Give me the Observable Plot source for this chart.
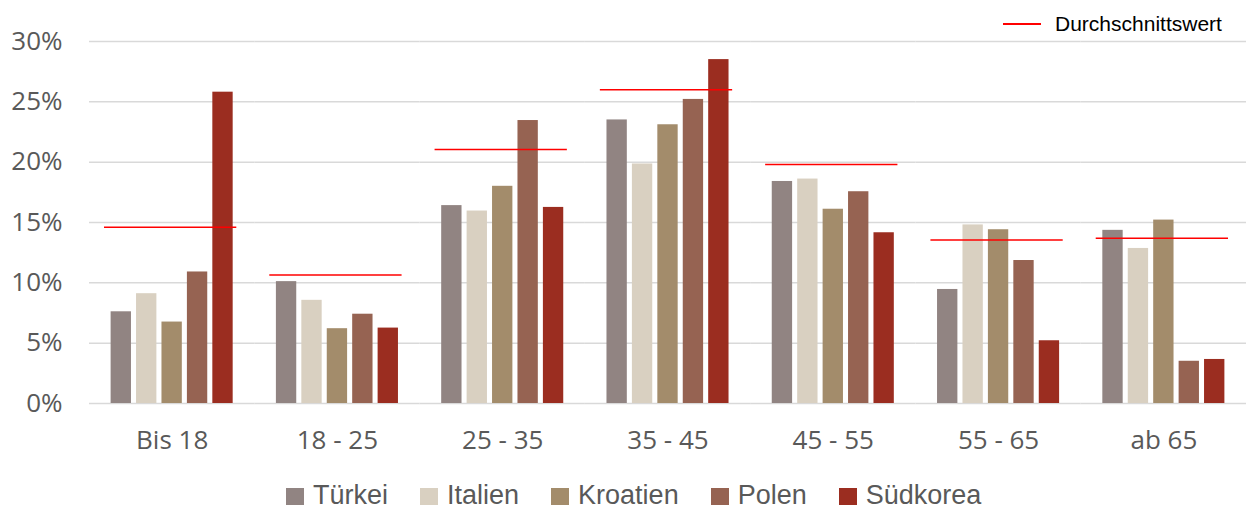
<!DOCTYPE html>
<html>
<head>
<meta charset="utf-8">
<script src="https://cdn.jsdelivr.net/npm/d3@7"></script>
<script src="https://cdn.jsdelivr.net/npm/@observablehq/plot@0.6"></script>
<style>
  html, body { margin: 0; padding: 0; background: #fff; }
  body { width: 1246px; height: 510px; position: relative; overflow: hidden; font-family: "Liberation Sans", Arial, sans-serif; }
  #chart { position: absolute; left: 0; top: 0; }
  #avgLegend { position: absolute; left: 1003px; top: 13px; display: flex; align-items: center; font-size: 21px; line-height: 21px; color: #000; }
  #avgLegend .line { display: block; width: 38px; height: 2px; background: #ff0000; margin-right: 14px; }
  #legend { position: absolute; left: 286px; top: 482px; display: flex; align-items: center; font-size: 27px; line-height: 27px; color: #595959; }
  #legend .item { display: flex; align-items: center; margin-right: 32px; }
  #legend .sw { display: block; width: 18px; height: 17px; margin-right: 9px; margin-top: 2px; }
</style>
</head>
<body>
<div id="chart"></div>
<div id="avgLegend"></div>
<div id="legend"></div>
<script>
// ---- data ----
const groups = ["Bis 18", "18 - 25", "25 - 35", "35 - 45", "45 - 55", "55 - 65", "ab 65"];
const countries = ["Türkei", "Italien", "Kroatien", "Polen", "Südkorea"];
const countryColors = ["#918482", "#d9d0c1", "#a38c6b", "#966352", "#9b2d20"];
const tuerkei   = [7.6, 10.1, 16.4, 23.5, 18.4, 9.45, 14.35];
const italien   = [9.1, 8.55, 15.95, 19.85, 18.6, 14.8, 12.85];
const kroatien  = [6.75, 6.2, 18.0, 23.1, 16.1, 14.4, 15.2];
const polen     = [10.9, 7.4, 23.45, 25.2, 17.55, 11.85, 3.5];
const suedkorea = [25.8, 6.25, 16.25, 28.5, 14.15, 5.2, 3.65];
const durchschnitt = [14.6, 10.65, 21.05, 26.0, 19.8, 13.55, 13.7];
const avgLabel = "Durchschnittswert";
const yTicks = [0, 5, 10, 15, 20, 25, 30];

// ---- tables built from the arrays ----
const seriesValues = [tuerkei, italien, kroatien, polen, suedkorea];
const rows = [];
groups.forEach((g, gi) => {
  countries.forEach((c, ci) => rows.push({ group: g, country: c, value: seriesValues[ci][gi] }));
});
const avgRows = groups.map((g, gi) => ({ group: g, value: durchschnitt[gi] }));

const chart = Plot.plot({
  width: 1246,
  height: 460,
  marginLeft: 89,
  marginRight: 0,
  marginTop: 41,
  marginBottom: 57,
  style: { fontFamily: "'Open Sans', sans-serif", fontSize: "26px", color: "#595959", background: "#fff" },
  fx: { domain: groups, padding: 0, label: null, round: false },
  x: { domain: countries, paddingInner: 0.2, paddingOuter: 0.85, axis: null, round: false },
  y: { domain: [0, 30], label: null },
  color: { domain: countries, range: countryColors },
  marks: [
    Plot.gridY(yTicks.filter(d => d > 0), { stroke: "#d9d9d9", strokeOpacity: 1, strokeWidth: 1.5 }),
    Plot.ruleY([0], { stroke: "#d9d9d9", strokeWidth: 1.5 }),
    Plot.barY(rows, { fx: "group", x: "country", y: "value", fill: "country" }),
    Plot.ruleY(avgRows, { fx: "group", y: "value", stroke: "#ff0000", strokeWidth: 1.5, insetLeft: 15, insetRight: 18 }),
    Plot.axisY(yTicks, { tickSize: 0, tickPadding: 27, tickFormat: d => d + "%", label: null, fontSize: 26 }),
    Plot.axisFx({ anchor: "bottom", tickSize: 0, tickPadding: 27, label: null, fontSize: 26 })
  ]
});
document.getElementById("chart").appendChild(chart);

// top-right legend for the average line
const avgLeg = document.getElementById("avgLegend");
const ln = document.createElement("span"); ln.className = "line";
const lt = document.createElement("span"); lt.textContent = avgLabel;
avgLeg.append(ln, lt);

// bottom legend
const leg = document.getElementById("legend");
countries.forEach((c, i) => {
  const item = document.createElement("span"); item.className = "item";
  const sw = document.createElement("span"); sw.className = "sw"; sw.style.background = countryColors[i];
  const t = document.createElement("span"); t.textContent = c;
  item.append(sw, t);
  leg.appendChild(item);
});
</script>
</body>
</html>
